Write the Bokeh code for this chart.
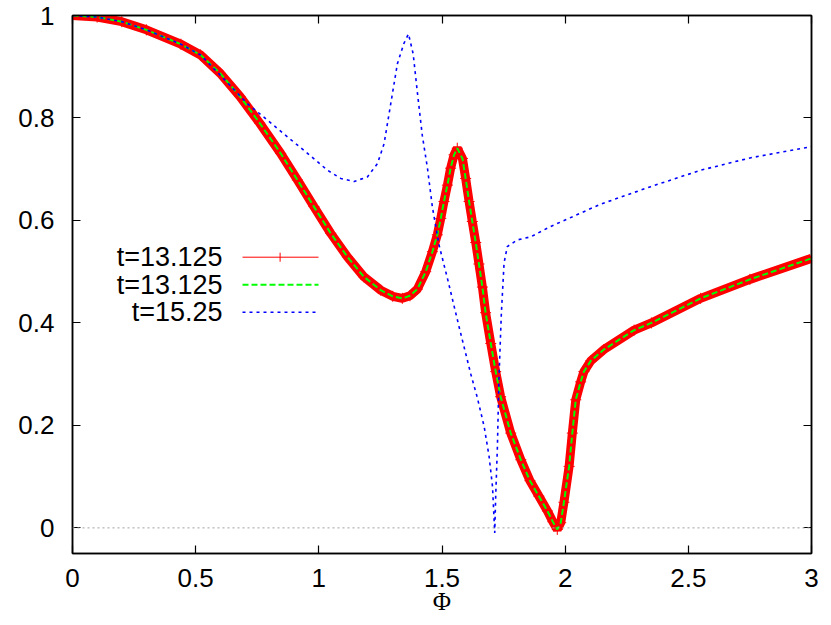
from bokeh.plotting import figure
from bokeh.models import Range1d, FixedTicker, LinearAxis, Span, Label, Arrow
from bokeh.embed import file_html
from bokeh.resources import INLINE

# ---- data ----
phi_a = [0.0, 0.1, 0.2, 0.3, 0.44, 0.52, 0.60, 0.68, 0.76, 0.845, 0.913, 0.98,
         1.048, 1.116, 1.183, 1.251, 1.30, 1.339, 1.37, 1.40, 1.434, 1.461, 1.481,
         1.495, 1.508, 1.522, 1.535, 1.549, 1.562, 1.583, 1.596, 1.61, 1.623, 1.637,
         1.65, 1.664, 1.677, 1.698, 1.718, 1.738, 1.779, 1.82, 1.857, 1.893, 1.928,
         1.95, 1.968, 1.982, 1.995, 2.016, 2.029, 2.043, 2.063, 2.076, 2.104, 2.157,
         2.28, 2.35, 2.55, 2.75, 3.0]
val_a = [1.0, 0.997, 0.988, 0.972, 0.944, 0.923, 0.887, 0.842, 0.79, 0.731, 0.679, 0.627,
         0.575, 0.529, 0.49, 0.464, 0.452, 0.448, 0.453, 0.466, 0.50, 0.539, 0.572,
         0.604, 0.637, 0.669, 0.702, 0.728, 0.741, 0.721, 0.682, 0.637, 0.598, 0.557,
         0.515, 0.47, 0.42, 0.36, 0.305, 0.256, 0.185, 0.133, 0.092, 0.062, 0.033,
         0.012, -0.003, 0.01, 0.05, 0.12, 0.185, 0.25, 0.285, 0.305, 0.326, 0.348,
         0.386, 0.40, 0.448, 0.485, 0.526]

phi_b = [0.0, 0.1, 0.2, 0.3, 0.44, 0.52, 0.615, 0.71, 0.791, 0.873, 0.954, 1.035,
         1.089, 1.143, 1.197, 1.238, 1.265, 1.292, 1.319, 1.345, 1.364, 1.383, 1.40,
         1.42, 1.441, 1.461, 1.488, 1.522, 1.569, 1.617, 1.643, 1.671, 1.691, 1.705,
         1.714, 1.718, 1.725, 1.731, 1.741, 1.752, 1.765, 1.806, 1.86, 1.94, 2.145,
         2.347, 2.55, 2.75, 3.0]
val_b = [1.0, 0.997, 0.988, 0.972, 0.944, 0.923, 0.876, 0.828, 0.796, 0.763, 0.731, 0.698,
         0.682, 0.676, 0.685, 0.711, 0.75, 0.828, 0.906, 0.945, 0.964, 0.925, 0.85,
         0.766, 0.702, 0.626, 0.552, 0.487, 0.393, 0.30, 0.255, 0.198, 0.14, 0.081,
         -0.01, 0.062, 0.159, 0.289, 0.419, 0.517, 0.549, 0.562, 0.568, 0.588, 0.632,
         0.666, 0.698, 0.722, 0.744]

series_labels = ["t=13.125", "t=13.125", "t=15.25"]
x_ticks = [0, 0.5, 1, 1.5, 2, 2.5, 3]
x_tick_labels = ["0", "0.5", "1", "1.5", "2", "2.5", "3"]
y_ticks = [0, 0.2, 0.4, 0.6, 0.8, 1.0]
y_tick_labels = ["0", "0.2", "0.4", "0.6", "0.8", "1"]
x_label = "Φ"

FONT = "Liberation Sans"
FS = "26px"

p = figure(width=823, height=625, output_backend="svg", toolbar_location=None,
           x_range=Range1d(0, 3), y_range=Range1d(-0.05, 1.0),
           min_border_left=72, min_border_right=12, min_border_top=15, min_border_bottom=72)
p.grid.visible = False
p.outline_line_color = "black"
p.outline_line_width = 1.5
p.background_fill_color = "white"
p.border_fill_color = "white"

def style_axis(ax, ticks, labels, show_labels=True, standoff=18):
    ax.ticker = FixedTicker(ticks=ticks)
    ax.major_tick_in = 8
    ax.major_tick_out = 0
    ax.minor_tick_line_color = None
    ax.major_tick_line_color = "black"
    ax.major_tick_line_width = 1.2
    ax.axis_line_color = "black"
    ax.axis_line_width = 1.5
    ax.major_label_text_font = FONT
    ax.major_label_text_color = "black"
    if show_labels:
        ax.major_label_overrides = {t: l for t, l in zip(ticks, labels)}
        ax.major_label_text_font_size = FS
        ax.major_label_standoff = standoff
    else:
        ax.major_label_overrides = {t: "" for t in ticks}
        ax.major_label_text_font_size = "1px"
        ax.major_label_standoff = 0

style_axis(p.xaxis[0], x_ticks, x_tick_labels, True, 15)
style_axis(p.yaxis[0], y_ticks, y_tick_labels, True, 18)

p.xaxis[0].axis_label = x_label
p.xaxis[0].axis_label_text_font = "Liberation Serif"
p.xaxis[0].axis_label_text_font_size = "25px"
p.xaxis[0].axis_label_text_font_style = "normal"
p.xaxis[0].axis_label_text_color = "black"
p.xaxis[0].axis_label_standoff = -2

top_ax = LinearAxis()
style_axis(top_ax, x_ticks, x_tick_labels, False)
right_ax = LinearAxis()
style_axis(right_ax, y_ticks, y_tick_labels, False)
p.add_layout(top_ax, "above")
p.add_layout(right_ax, "right")

# zero line
p.add_layout(Span(location=0, dimension="width", line_color="#a0a0a0",
                  line_dash="2 3", line_width=1))

# red series: thick band of '+' points
p.line(phi_a, val_a, line_color="#ff0000", line_width=9, line_alpha=1.0)
p.scatter(phi_a, val_a, marker="cross", size=11, line_color="#ff0000", line_width=1)
# green dashed
p.line(phi_a, val_a, line_color="#00ff00", line_width=2, line_dash="6 3")
# blue dotted
p.line(phi_b, val_b, line_color="#0000ff", line_width=1.6, line_dash="3 4")

# custom gnuplot-style legend (text left, sample right)
leg_y = [296.3, 268.7, 241.3]
for lab, yy in zip(series_labels, leg_y):
    p.add_layout(Label(x=150, y=yy, x_units="screen", y_units="screen", text=lab,
                       text_align="right", text_baseline="middle",
                       text_font=FONT, text_font_size="27px", text_color="black"))
p.add_layout(Arrow(end=None, x_start=170, x_end=246, y_start=leg_y[0], y_end=leg_y[0],
                   start_units="screen", end_units="screen",
                   line_color="#ff0000", line_width=1))
p.add_layout(Arrow(end=None, x_start=207.6, x_end=207.6, y_start=leg_y[0] - 4.5,
                   y_end=leg_y[0] + 4.5, start_units="screen", end_units="screen",
                   line_color="#ff0000", line_width=1))
p.add_layout(Arrow(end=None, x_start=170, x_end=246, y_start=leg_y[1], y_end=leg_y[1],
                   start_units="screen", end_units="screen",
                   line_color="#00ff00", line_width=2, line_dash="6 3"))
p.add_layout(Arrow(end=None, x_start=170, x_end=246, y_start=leg_y[2], y_end=leg_y[2],
                   start_units="screen", end_units="screen",
                   line_color="#0000ff", line_width=1.6, line_dash="3 4"))

open("out.html", "w").write(file_html(p, INLINE))
